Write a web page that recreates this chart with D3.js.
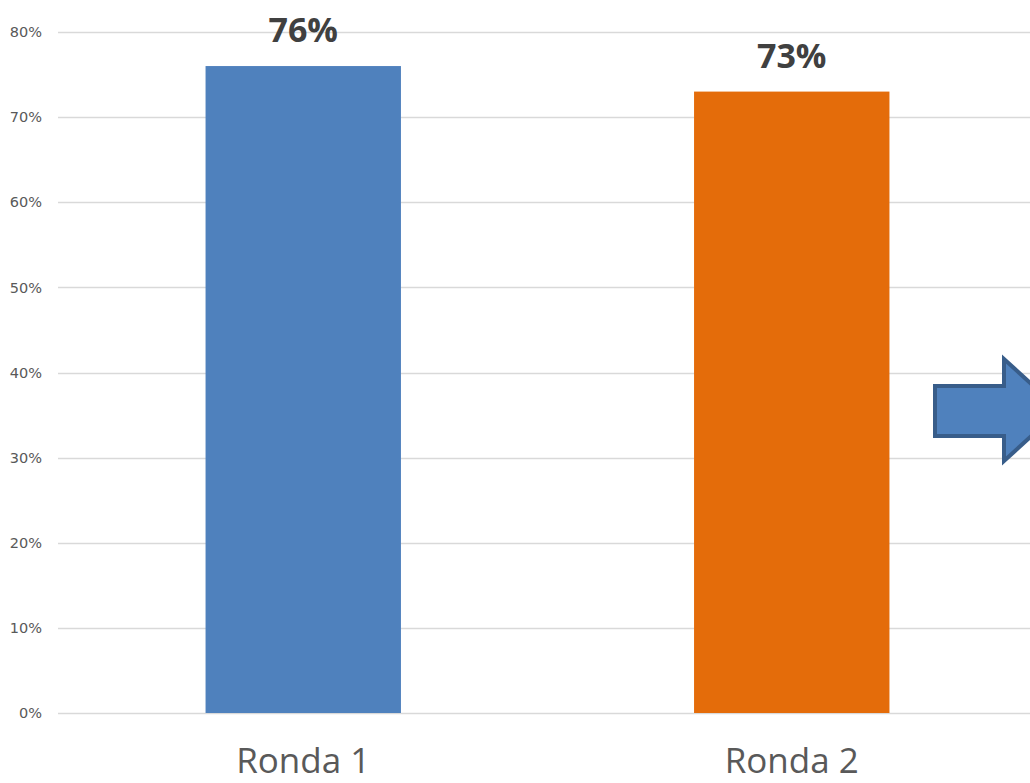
<!DOCTYPE html>
<html>
<head>
<meta charset="utf-8">
<script src="https://cdn.jsdelivr.net/npm/d3@7"></script>
<style>
  body { margin: 0; background: #fff; overflow: hidden; }
  #chart { width: 1030px; height: 783px; }
</style>
</head>
<body>
<div id="chart"></div>
<script>
const categories = ['Ronda 1', 'Ronda 2'];
const values = [0.76, 0.73];
const barColors = ['#4F81BD', '#E46C0A'];
const yTicks = [0, 0.1, 0.2, 0.3, 0.4, 0.5, 0.6, 0.7, 0.8];

const width = 1030, height = 783;

const svg = d3.select('#chart').append('svg')
    .attr('width', width)
    .attr('height', height);

const x = d3.scaleBand()
    .domain(categories)
    .range([59, 1036])
    .paddingInner(0.6)
    .paddingOuter(0.3);

const y = d3.scaleLinear()
    .domain([0, 0.8])
    .range([713, 32]);

// gridlines
svg.append('g').selectAll('line')
    .data(yTicks)
    .enter().append('line')
    .attr('x1', 58)
    .attr('x2', width)
    .attr('y1', d => Math.round(y(d)) + 0.5)
    .attr('y2', d => Math.round(y(d)) + 0.5)
    .attr('stroke', '#D9D9D9')
    .attr('stroke-width', 1.5);

// y tick labels
const yAxis = d3.axisLeft(y).tickValues(yTicks).tickFormat(d3.format('.0%')).tickSize(0).tickPadding(0);
const ya = svg.append('g').attr('transform', 'translate(42,0)').call(yAxis);
ya.select('.domain').remove();
ya.selectAll('text')
    .attr('fill', '#595959')
    .style('font-family', '"DejaVu Sans", sans-serif')
    .style('font-size', '14.5px');

// bars
svg.append('g').selectAll('rect')
    .data(values)
    .enter().append('rect')
    .attr('x', (d, i) => x(categories[i]))
    .attr('width', x.bandwidth())
    .attr('y', d => y(d))
    .attr('height', d => y(0) - y(d))
    .attr('fill', (d, i) => barColors[i]);

// value labels
svg.append('g').selectAll('text')
    .data(values)
    .enter().append('text')
    .attr('x', (d, i) => x(categories[i]) + x.bandwidth() / 2)
    .attr('y', d => y(d) - 24)
    .attr('text-anchor', 'middle')
    .attr('fill', '#404040')
    .style('font-family', '"Open Sans", sans-serif')
    .style('font-weight', 'bold')
    .style('font-size', '34px')
    .text(d => d3.format('.0%')(d));

// category labels
const xAxis = d3.axisBottom(x).tickSize(0).tickPadding(0);
const xa = svg.append('g').call(xAxis);
xa.select('.domain').remove();
xa.selectAll('text')
    .attr('y', 773)
    .attr('dy', 0)
    .attr('fill', '#595959')
    .style('font-family', '"Open Sans", sans-serif')
    .style('font-size', '35px');

// arrow shape at right edge
const arrowPts = [[935, 386], [1004, 386], [1004, 359], [1060, 410], [1004, 461], [1004, 436], [935, 436]];
svg.append('path')
    .attr('d', d3.line()(arrowPts) + 'Z')
    .attr('fill', '#4F81BD')
    .attr('stroke', '#385D8A')
    .attr('stroke-width', 4)
    .attr('stroke-linejoin', 'miter');
</script>
</body>
</html>
